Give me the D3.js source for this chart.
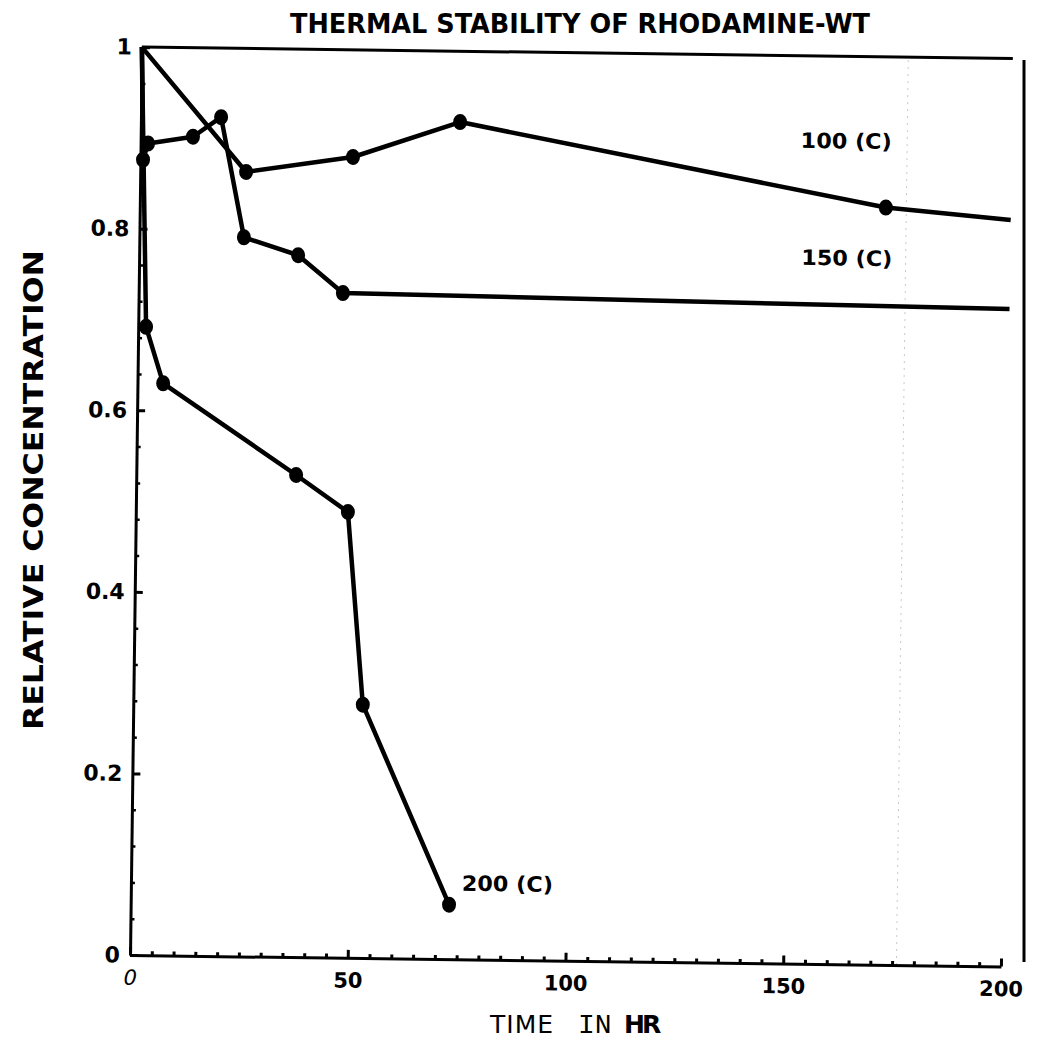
<!DOCTYPE html>
<html>
<head>
<meta charset="utf-8">
<script src="https://cdn.jsdelivr.net/npm/d3@7"></script>
<style>
  body { margin: 0; background: #fff; }
  .plotter { font-family: "DejaVu Sans", sans-serif; font-weight: bold; fill: #000; }
</style>
</head>
<body>
<div id="chart"></div>
<script>

// values (hours, relative concentration)
var hours100 = [0, 24.3, 48.8, 73.3, 171.3, 200];
var conc100  = [1, 0.864, 0.882, 0.922, 0.834, 0.822];

var hours150 = [0, 0.6, 1.7, 12.0, 18.4, 24.0, 36.5, 46.9, 200];
var conc150  = [1, 0.876, 0.894, 0.902, 0.924, 0.792, 0.773, 0.732, 0.724];

var hours200 = [0, 1.8, 5.9, 36.7, 48.7, 52.7, 73.1];
var conc200  = [1, 0.692, 0.630, 0.531, 0.491, 0.279, 0.060];

var xTicks = [0, 50, 100, 150, 200];
var yTicks = [0, 0.2, 0.4, 0.6, 0.8, 1];
var yTickLabels = ["0", "0.2", "0.4", "0.6", "0.8", "1"];

var seriesNames = ["100 (C)", "150 (C)", "200 (C)"];

var W = 1044, H = 1045;
var origin = {x: 130, y: 955},
    width = 871,
    height = 908;

var svg = d3.select("#chart")
  .append("svg")
    .attr("width", W)
    .attr("height", H);

// the scan is tilted a little, so the plot area is rotated
var g = svg.append("g")
    .attr("transform", "translate(" + origin.x + "," + origin.y + ") rotate(0.75)");

var x = d3.scaleLinear().domain([0, 200]).range([0, width]);
var y = d3.scaleLinear().domain([0, 1]).range([0, -height]);

// faint fold mark in the paper
g.append("line")
    .attr("x1", x(176)).attr("x2", x(176))
    .attr("y1", y(0)).attr("y2", y(1))
    .attr("stroke", "#bbb")
    .attr("stroke-width", 0.8)
    .attr("stroke-dasharray", "2,5");

// minor ticks
g.append("g")
    .call(d3.axisBottom(x)
      .tickValues(d3.range(5, 200, 5).filter(function(v) { return v % 50 != 0; }))
      .tickSizeInner(-4).tickSizeOuter(0).tickFormat(""))
    .call(function(a) { a.select(".domain").remove(); })
    .selectAll("line").attr("stroke-width", 3);

g.append("g")
    .call(d3.axisLeft(y)
      .tickValues(d3.range(1, 25).map(function(i) { return i * 0.04; }).filter(function(v) { return Math.abs(v * 5 - Math.round(v * 5)) > 0.01; }))
      .tickSizeInner(-4).tickSizeOuter(0).tickFormat(""))
    .call(function(a) { a.select(".domain").remove(); })
    .selectAll("line").attr("stroke-width", 2.5);

// main axes
var xAxis = g.append("g")
    .call(d3.axisBottom(x)
      .tickValues(xTicks)
      .tickSizeInner(-8).tickSizeOuter(0).tickPadding(14)
      .tickFormat(d3.format("d")));
xAxis.select(".domain").attr("stroke-width", 3);
xAxis.selectAll("line").attr("stroke-width", 3);
xAxis.selectAll("text")
    .attr("class", "plotter")
    .style("font-size", "21px")
    .style("font-family", "DejaVu Sans")
    .attr("dy", "0.75em");
xAxis.selectAll("text").filter(function(d) { return d == 0; })
    .style("font-style", "italic")
    .style("font-weight", "normal")
    .style("font-size", "21px");

var yAxis = g.append("g")
    .call(d3.axisLeft(y)
      .tickValues(yTicks)
      .tickSizeInner(-8).tickSizeOuter(0).tickPadding(10)
      .tickFormat(function(d, i) { return yTickLabels[i]; }));
yAxis.select(".domain").attr("stroke-width", 3);
yAxis.selectAll("line").attr("stroke-width", 3);
yAxis.selectAll("text")
    .attr("class", "plotter")
    .style("font-size", "22px")
    .style("font-family", "DejaVu Sans");

// top frame line
g.append("line")
    .attr("x1", x(0)).attr("x2", x(200))
    .attr("y1", y(1)).attr("y2", y(1))
    .attr("stroke", "#000")
    .attr("stroke-width", 3);

var line = d3.line()
    .x(function(d) { return x(d[0]); })
    .y(function(d) { return y(d[1]); });

function drawSeries(hrs, conc, dotFrom, dotTo) {
  var pts = hrs.map(function(h, i) { return [h, conc[i]]; });
  g.append("path")
    .datum(pts)
    .attr("fill", "none")
    .attr("stroke", "#000")
    .attr("stroke-width", 4.5)
    .attr("stroke-linejoin", "round")
    .attr("d", line);
  g.selectAll(null)
    .data(pts.slice(dotFrom, dotTo))
    .enter().append("ellipse")
      .attr("cx", function(d) { return x(d[0]); })
      .attr("cy", function(d) { return y(d[1]); })
      .attr("rx", 7)
      .attr("ry", 8)
      .attr("fill", "#000");
}

drawSeries(hours100, conc100, 1, hours100.length - 1);
drawSeries(hours150, conc150, 1, hours150.length - 1);
drawSeries(hours200, conc200, 1, hours200.length);

// series labels
var labelPos = [[162, 0.907, "middle"], [162.5, 0.778, "middle"], [76, 0.084, "start"]];
g.selectAll(null)
  .data(seriesNames)
  .enter().append("text")
    .attr("class", "plotter")
    .attr("x", function(d, i) { return x(labelPos[i][0]); })
    .attr("y", function(d, i) { return y(labelPos[i][1]); })
    .attr("dy", "0.36em")
    .attr("text-anchor", function(d, i) { return labelPos[i][2]; })
    .attr("textLength", 91)
    .attr("lengthAdjust", "spacingAndGlyphs")
    .style("font-size", "21px")
    .text(function(d) { return d; });

// titles
svg.append("text")
    .attr("class", "plotter")
    .attr("x", 580)
    .attr("y", 33)
    .attr("text-anchor", "middle")
    .attr("textLength", 580)
    .attr("lengthAdjust", "spacingAndGlyphs")
    .style("font-size", "27px")
    .text("THERMAL STABILITY OF RHODAMINE-WT");

svg.append("text")
    .attr("class", "plotter")
    .attr("transform", "translate(43,490) rotate(-90)")
    .attr("text-anchor", "middle")
    .attr("textLength", 480)
    .attr("lengthAdjust", "spacingAndGlyphs")
    .style("font-size", "27px")
    .text("RELATIVE CONCENTRATION");

var xl = svg.append("text")
    .attr("y", 1033)
    .style("fill", "#000");
xl.append("tspan")
    .attr("x", 490)
    .style("font-family", "DejaVu Sans")
    .style("font-size", "25px")
    .style("letter-spacing", "1px")
    .text("TIME");
xl.append("tspan")
    .attr("x", 578)
    .style("font-family", "Liberation Mono")
    .style("font-size", "28px")
    .text("IN");
xl.append("tspan")
    .attr("x", 624)
    .style("font-family", "DejaVu Sans")
    .style("font-size", "25px")
    .style("font-weight", "bold")
    .style("letter-spacing", "-3px")
    .text("HR");

// paper edge line on the right
svg.append("line")
    .attr("x1", 1024).attr("x2", 1024)
    .attr("y1", 60).attr("y2", 962)
    .attr("stroke", "#000")
    .attr("stroke-width", 3);

</script>
</body>
</html>
